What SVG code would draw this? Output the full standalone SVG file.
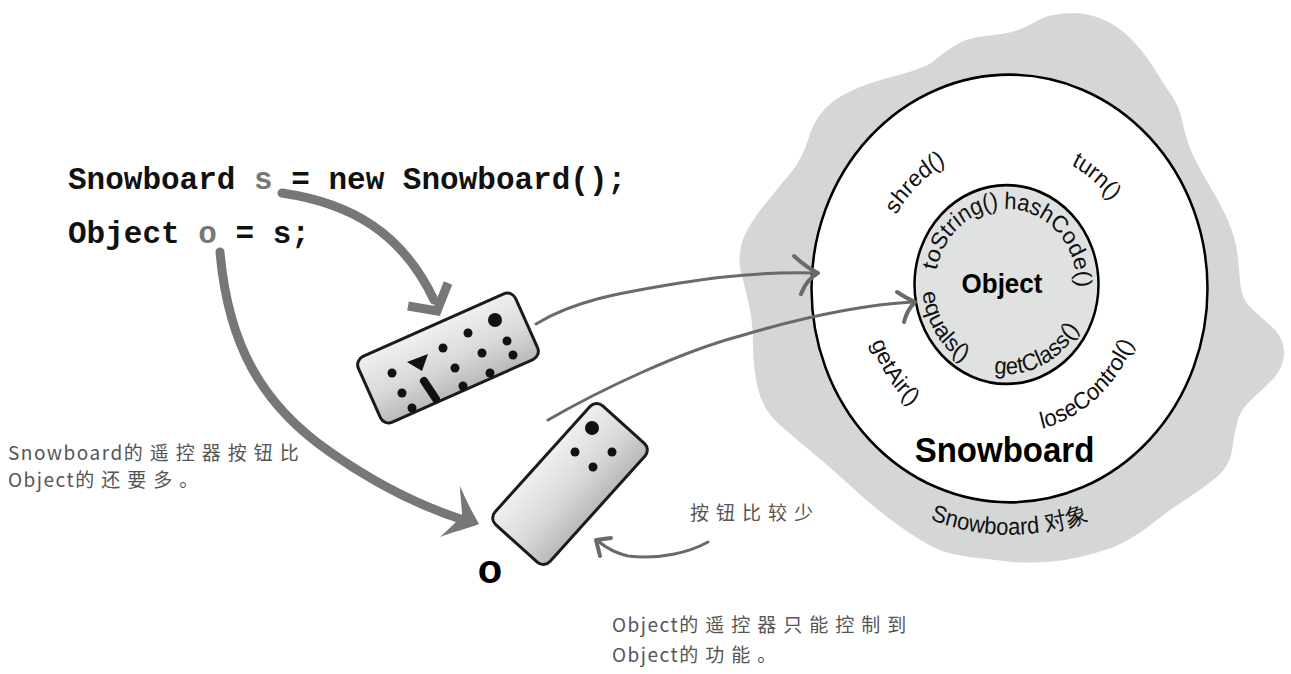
<svg xmlns="http://www.w3.org/2000/svg" xmlns:xlink="http://www.w3.org/1999/xlink" width="1291" height="674" viewBox="0 0 1291 674">
  <defs>
    <style>
      .code { font-family: "Liberation Mono", "Courier New", monospace; font-weight: bold; font-size: 31px; fill: #111; }
      .var { fill: #777; }
      .meth { font-family: "Liberation Sans", Arial, sans-serif; font-size: 22px; fill: #111; }
      .title { font-family: "Liberation Sans", Arial, sans-serif; font-weight: bold; fill: #000; text-anchor: middle; }
      .note { font-family: "Noto Sans CJK SC", "Noto Sans", sans-serif; font-size: 19px; fill: #555; }
      .lat { letter-spacing: 1.5px; }
      .cjk { letter-spacing: 7px; }
      .fat { fill: none; stroke: #777; stroke-width: 9; stroke-linecap: round; }
      .thin { fill: none; stroke: #6a6a6a; stroke-width: 3; stroke-linecap: round; }
      .barb { fill: none; stroke: #6a6a6a; stroke-width: 4; stroke-linecap: round; stroke-linejoin: round; }
      .ring { stroke: #000; stroke-width: 2.5; }
      .dot { fill: #111; }
    </style>
    <linearGradient id="remoteFill" x1="0" y1="0" x2="0" y2="1">
      <stop offset="0" stop-color="#f0f0f0"/>
      <stop offset="0.55" stop-color="#d9d9d9"/>
      <stop offset="1" stop-color="#b9b9b9"/>
    </linearGradient>
    <filter id="soft" x="-10%" y="-10%" width="120%" height="120%">
      <feGaussianBlur stdDeviation="1.2"/>
    </filter>
    <!-- label arcs (ring group coordinates, origin at ring centre) -->
    <path id="a-shred" d="M-131.28,-13.80 A132,132 0 0 1 -9.21,-131.68"/>
    <path id="a-turn" d="M0,-130 A130,130 0 0 1 128.03,-22.57"/>
    <path id="a-getair" d="M-146.19,-15.37 A147,147 0 0 0 -40.52,141.31"/>
    <path id="a-lose" d="M-32.42,130.02 A134,134 0 0 0 133.27,-14.01"/>
    <path id="a-obj" d="M-197.45,114 A228,228 0 0 0 197.45,114"/>
    <path id="a-tostring" d="M-73.90,0.02 A71,71 0 0 1 5.65,-74.17"/>
    <path id="a-hash" d="M-15.16,-72.64 A70,70 0 0 1 65.94,8.46"/>
    <path id="a-equals" d="M-84.85,-22.60 A84,84 0 0 0 -21.90,78.15"/>
    <path id="a-getclass" d="M-36.76,72.12 A83,83 0 0 0 77.53,16.38"/>
  </defs>

  <rect width="1291" height="674" fill="#fff"/>

  <!-- heap blob behind the object -->
  <g id="heap">
    <path fill="#d5d6d6" d="M1076,13 Q1090,14 1102,19 Q1115,24 1128,36 Q1140,47 1152,65 Q1163,83 1172,96 Q1180,108 1183,124 Q1186,140 1193,155 Q1200,170 1208,183 Q1216,196 1224,212 Q1232,228 1236,245 Q1239,262 1240,281 Q1241,300 1252,309 Q1262,318 1272,327 Q1282,335 1284,350 Q1285,365 1274,378 Q1262,390 1251,400 Q1240,410 1237,423 Q1234,435 1232,450 Q1230,465 1218,476 Q1205,487 1185,500 Q1165,513 1148,527 Q1130,540 1114,547 Q1097,553 1080,557 Q1063,561 1047,562 Q1030,563 1013,562 Q995,560 978,558 Q960,556 945,552 Q930,547 905,530 Q880,513 855,490 Q830,467 814,454 Q797,440 780,425 Q763,410 758,389 Q753,367 753,346 Q753,325 750,310 Q747,295 743,280 Q738,265 740,253 Q741,240 749,227 Q757,213 770,198 Q783,182 793,170 Q802,158 808,140 Q813,122 823,111 Q832,100 851,91 Q870,82 899,75 Q927,67 934,61 Q940,55 953,47 Q965,38 985,36 Q1005,34 1015,31 Q1025,28 1035,22 Q1045,16 1054,15 Q1063,13 1076,13 Z"/>
  </g>

  <!-- the Snowboard object with its inner Object core -->
  <g id="snowboard-object" transform="translate(1009.5,288.5) scale(1,1.08)">
    <circle class="ring" cx="0" cy="0" r="198" fill="#fff"/>
    <text class="meth"><textPath href="#a-shred" startOffset="50%" text-anchor="middle">shred()</textPath></text>
    <text class="meth"><textPath href="#a-turn" startOffset="50%" text-anchor="middle">turn()</textPath></text>
    <text class="meth"><textPath href="#a-getair" startOffset="50%" text-anchor="middle">getAir()</textPath></text>
    <text class="meth"><textPath href="#a-lose" startOffset="50%" text-anchor="middle">loseControl()</textPath></text>
    <text class="title" x="-5" y="161" font-size="33">Snowboard</text>
    <text class="meth" font-size="24"><textPath href="#a-obj" startOffset="50%" text-anchor="middle">Snowboard 对象</textPath></text>
    <g id="object-core">
      <circle class="ring" cx="-3" cy="-3.7" r="92" fill="#e0e1e1"/>
      <text class="title" x="-7.5" y="4" font-size="26">Object</text>
      <text class="meth"><textPath href="#a-tostring" startOffset="50%" text-anchor="middle">toString()</textPath></text>
      <text class="meth"><textPath href="#a-hash" startOffset="50%" text-anchor="middle">hashCode()</textPath></text>
      <text class="meth"><textPath href="#a-equals" startOffset="50%" text-anchor="middle">equals()</textPath></text>
      <text class="meth"><textPath href="#a-getclass" startOffset="50%" text-anchor="middle">getClass()</textPath></text>
    </g>
  </g>

  <!-- code lines -->
  <g id="code">
    <text class="code" x="68" y="189">Snowboard <tspan class="var">s</tspan> = new Snowboard();</text>
    <text class="code" x="68" y="243">Object <tspan class="var">o</tspan> = s;</text>
  </g>

  <!-- Snowboard remote: many buttons -->
  <g id="remote-s">
    <g transform="translate(448,358) rotate(-24)">
      <rect x="-86" y="-36" width="172" height="72" rx="9" fill="url(#remoteFill)" stroke="#1b1b1b" stroke-width="3"/>
      <path d="M-82,-33 L80,-33" stroke="#111" stroke-width="3.5" fill="none" filter="url(#soft)"/>
      <path d="M-84,-28 L-84,30" stroke="#111" stroke-width="4" fill="none" filter="url(#soft)"/>
      <path d="M84,-30 L84,28" stroke="#111" stroke-width="4" fill="none" filter="url(#soft)"/>
    </g>
    <circle class="dot" cx="495" cy="320" r="7"/>
    <circle class="dot" cx="468" cy="333" r="4.5"/>
    <circle class="dot" cx="507" cy="341" r="4.5"/>
    <circle class="dot" cx="443" cy="348" r="4.5"/>
    <circle class="dot" cx="482" cy="353" r="4.5"/>
    <circle class="dot" cx="513" cy="355" r="4.5"/>
    <circle class="dot" cx="455" cy="368" r="4.5"/>
    <circle class="dot" cx="490" cy="373" r="4.5"/>
    <circle class="dot" cx="392" cy="373" r="4.5"/>
    <circle class="dot" cx="463" cy="386" r="4.5"/>
    <circle class="dot" cx="402" cy="393" r="4.5"/>
    <circle class="dot" cx="412" cy="408" r="4.5"/>
    <polygon class="dot" points="407,362 428,354 422,371"/>
    <line x1="424" y1="381" x2="436" y2="399" stroke="#111" stroke-width="8" stroke-linecap="round"/>
  </g>

  <!-- Object remote: few buttons -->
  <g id="remote-o">
    <g transform="translate(570,484) rotate(-48)">
      <rect x="-80" y="-37" width="160" height="74" rx="9" fill="url(#remoteFill)" stroke="#1b1b1b" stroke-width="3"/>
      <path d="M-76,-34 L76,-34" stroke="#111" stroke-width="3.5" fill="none" filter="url(#soft)"/>
      <path d="M-78,-30 L-78,30" stroke="#111" stroke-width="4" fill="none" filter="url(#soft)"/>
    </g>
    <circle class="dot" cx="592" cy="428" r="7"/>
    <circle class="dot" cx="575" cy="452" r="4.5"/>
    <circle class="dot" cx="593" cy="467" r="4.5"/>
    <circle class="dot" cx="612" cy="452" r="4.5"/>
  </g>

  <text id="label-o" x="490" y="583" font-family="Liberation Sans, Arial, sans-serif" font-weight="bold" font-size="40" text-anchor="middle" fill="#000">o</text>

  <!-- connectors -->
  <g id="connectors">
    <path class="fat" d="M282,193 C350,203 402,232 434,300"/>
    <path fill="none" stroke="#777" stroke-width="9" stroke-linejoin="miter" d="M408,306 L437,311 L448,283"/>
    <path class="fat" d="M220,252 C228,345 262,405 330,452 C380,487 430,510 470,522"/>
    <path fill="#777" d="M479,524 C470,528 452,532 440,537 C450,528 458,520 462,516 C462,506 460,496 460,486 C466,500 472,512 479,524 Z"/>
    <path class="thin" d="M536,324 C575,300 620,293 680,283 S780,272 815,273"/>
    <path class="barb" d="M794,256 Q807,268 818,273 Q806,280 801,294"/>
    <path class="thin" d="M548,420 C600,390 680,352 740,336 C800,318 860,305 913,302"/>
    <path class="barb" d="M897,292 Q908,299 915,302 Q907,310 904,322"/>
    <path class="thin" d="M708,542 C690,552 660,560 628,556 C615,553 605,547 598,541"/>
    <path class="barb" d="M611,538 L596,540 L600,556"/>
  </g>

  <!-- notes -->
  <g id="notes">
    <text class="note" x="8" y="460"><tspan class="lat">Snowboard</tspan><tspan class="cjk">的遥控器按钮比</tspan></text>
    <text class="note" x="8" y="487"><tspan class="lat">Object</tspan><tspan class="cjk">的还要多。</tspan></text>
    <text class="note cjk" x="690" y="520">按钮比较少</text>
    <text class="note" x="612" y="632"><tspan class="lat">Object</tspan><tspan class="cjk">的遥控器只能控制到</tspan></text>
    <text class="note" x="612" y="662"><tspan class="lat">Object</tspan><tspan class="cjk">的功能。</tspan></text>
  </g>
</svg>
